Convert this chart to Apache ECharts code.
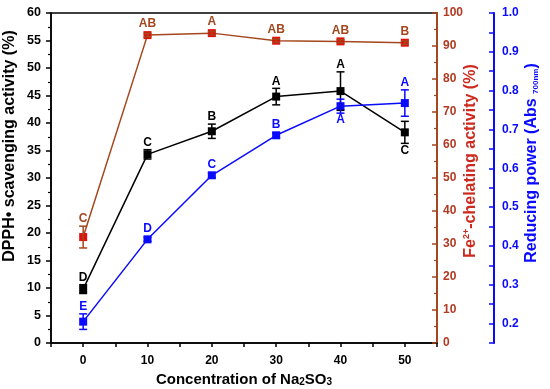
<!DOCTYPE html>
<html><head><meta charset="utf-8">
<script src="https://cdn.jsdelivr.net/npm/echarts@6/dist/echarts.min.js"></script>
<style>html,body{margin:0;padding:0;background:#fff}#c{width:550px;height:389px}</style>
</head><body><div id="c"></div>
<script>
const conc = [0, 10, 20, 30, 40, 50];
const dpph = [9.8, 34.3, 38.5, 44.8, 45.8, 38.3];
const dpphErr = [0.8, 0.85, 1.3, 1.5, 3.5, 2.0];
const dpphLetters = ['D', 'C', 'B', 'A', 'A', 'C'];
const fe = [32.1, 93.3, 93.9, 91.6, 91.4, 91.0];
const feErr = [3.3, 0.5, 0.5, 0.5, 0.5, 0.5];
const feLetters = ['C', 'AB', 'A', 'AB', 'AB', 'B'];
const rp = [0.205, 0.417, 0.582, 0.685, 0.760, 0.768];
const rpErr = [0.02, 0.005, 0.006, 0.006, 0.018, 0.034];
const rpLetters = ['E', 'D', 'C', 'B', 'A', 'A'];
const xTicks = [0, 10, 20, 30, 40, 50];
const rpTickLabels = [0.2, 0.3, 0.4, 0.5, 0.6, 0.7, 0.8, 0.9, 1.0];
const rpTickMarks = [0.15, 0.2, 0.25, 0.3, 0.35, 0.4, 0.45, 0.5, 0.55, 0.6, 0.65, 0.7, 0.75, 0.8, 0.85, 0.9, 0.95, 1.0];

// placement of letters (below the point for these indices)
const dpphBelow = [false, false, false, false, false, true];
const feBelow = [false, false, false, false, false, false];
const rpBelow = [false, false, false, false, true, false];

const FONT = 'Liberation Sans, Arial, sans-serif';
const BLACK = '#000000', RED = '#e0100a', BROWN = '#a4471e', FELAB = '#b23a22', FETITLE = '#cc2a1e', BLUE = '#0a0aff';

function errSeries(name, vals, errs, letters, below, yIdx, color, letterColor) {
  return {
    type: 'custom', name: name, yAxisIndex: yIdx, z: 5,
    data: conc.map((x, i) => [x, vals[i], errs[i], i]),
    renderItem: function (params, api) {
      const x = api.value(0), y = api.value(1), e = api.value(2), i = api.value(3);
      const top = api.coord([x, y + e]), bot = api.coord([x, y - e]), mid = api.coord([x, y]);
      const w = 4;
      const st = { stroke: color, lineWidth: 1.5 };
      const children = [
        { type: 'line', shape: { x1: top[0], y1: top[1], x2: bot[0], y2: bot[1] }, style: st },
        { type: 'line', shape: { x1: top[0] - w, y1: top[1], x2: top[0] + w, y2: top[1] }, style: st },
        { type: 'line', shape: { x1: bot[0] - w, y1: bot[1], x2: bot[0] + w, y2: bot[1] }, style: st }
      ];
      const b = below[i];
      const ty = b ? Math.max(bot[1], mid[1] + 4) + 1 : Math.min(top[1], mid[1] - 4) - 1;
      children.push({
        type: 'text', style: {
          x: top[0], y: ty, text: letters[i], fill: letterColor,
          font: 'bold 12px ' + FONT, align: 'center', verticalAlign: b ? 'top' : 'bottom'
        }
      });
      return { type: 'group', children: children };
    }
  };
}

const chart = echarts.init(document.getElementById('c'), null, { renderer: 'canvas' });
chart.setOption({
  animation: false,
  backgroundColor: '#fff',
  textStyle: { fontFamily: FONT },
  grid: { left: 51, right: 113, top: 13, bottom: 46, outerBoundsMode: 'none', containLabel: false,
    show: true, borderColor: '#000', borderWidth: 1.5, backgroundColor: 'transparent' },
  graphic: [
    { type: 'text', x: 10, y: 146, rotation: Math.PI / 2, z: 10,
      style: { text: 'DPPH• scavenging activity (%)', font: 'bold 16px ' + FONT, fill: '#000', align: 'center', verticalAlign: 'middle' } },
    { type: 'text', x: 471, y: 161, rotation: Math.PI / 2, z: 10,
      style: { text: '{a|Fe}{s|2+}{a|-chelating activity (%)}', align: 'center', verticalAlign: 'middle',
        rich: { a: { fill: FETITLE, font: 'bold 16px ' + FONT }, s: { fill: FETITLE, font: 'bold 9px ' + FONT, verticalAlign: 'top', padding: [0, 0, 8, 0] } } } },
    { type: 'text', x: 532, y: 163, rotation: Math.PI / 2, z: 10,
      style: { text: '{a|Reducing power (Abs }{s|700nm}{a|)}', align: 'center', verticalAlign: 'middle',
        rich: { a: { fill: BLUE, font: 'bold 16px ' + FONT }, s: { fill: BLUE, font: 'bold 8px ' + FONT, verticalAlign: 'bottom' } } } }
  ],
  xAxis: {
    type: 'value', min: -5, max: 55, interval: 5,
    name: '{a|Concentration of Na}{s|2}{a|SO}{s|3}', nameLocation: 'middle', nameGap: 23,
    nameTextStyle: { rich: { a: { fontWeight: 'bold', fontSize: 15, color: '#000', fontFamily: FONT }, s: { fontWeight: 'bold', fontSize: 10, color: '#000', fontFamily: FONT, verticalAlign: 'bottom', padding: [4, 0, 0, 0] } } },
    axisLine: { onZero: false, lineStyle: { color: '#000', width: 1.5 } },
    axisTick: { inside: false, length: 4, lineStyle: { color: '#000', width: 1.5 } },
    axisLabel: { color: '#000', fontWeight: 'bold', fontSize: 12, margin: 12, showMinLabel: true, showMaxLabel: true,
      formatter: v => (xTicks.indexOf(v) >= 0 ? String(v) : '') },
    splitLine: { show: false }
  },
  yAxis: [
    {
      type: 'value', min: 0, max: 60, interval: 5, position: 'left',
      axisLine: { show: true, onZero: false, lineStyle: { color: '#000', width: 1.5 } },
      axisTick: { show: true, length: 5, lineStyle: { color: '#000', width: 1.5 } },
      minorTick: { show: true, splitNumber: 2, length: 3, lineStyle: { color: '#000', width: 1.2 } },
      axisLabel: { color: '#000', fontWeight: 'bold', fontSize: 12.5, margin: 10 },
      splitLine: { show: false }
    },
    {
      type: 'value', min: 0, max: 100, interval: 10, position: 'right',
      axisLine: { show: true, onZero: false, lineStyle: { color: BROWN, width: 2 } },
      axisTick: { show: true, inside: true, length: 5, lineStyle: { color: BROWN, width: 1.5 } },
      minorTick: { show: true, splitNumber: 2, length: 3, lineStyle: { color: BROWN, width: 1.2 } },
      axisLabel: { color: FELAB, fontWeight: 'bold', fontSize: 12, margin: 6 },
      splitLine: { show: false }
    },
    {
      type: 'value', min: 0.15, max: 1.0, position: 'right', offset: 57,
      axisLine: { show: true, onZero: false, lineStyle: { color: BLUE, width: 2 } },
      axisTick: { show: true, inside: true, length: 5, lineStyle: { color: BLUE, width: 1.5 }, customValues: rpTickMarks },
      axisLabel: { color: BLUE, fontWeight: 'bold', fontSize: 12, margin: 8, customValues: rpTickLabels, formatter: v => v.toFixed(1) },
      splitLine: { show: false }
    }
  ],
  series: [
    { type: 'line', name: 'DPPH', yAxisIndex: 0, data: conc.map((x, i) => [x, dpph[i]]), symbol: 'rect', symbolSize: 8,
      lineStyle: { color: BLACK, width: 1.5 }, itemStyle: { color: BLACK }, z: 3 },
    { type: 'line', name: 'Fe', yAxisIndex: 1, data: conc.map((x, i) => [x, fe[i]]), symbol: 'rect', symbolSize: 8,
      lineStyle: { color: BROWN, width: 1.5 }, itemStyle: { color: RED }, z: 3 },
    { type: 'line', name: 'RP', yAxisIndex: 2, data: conc.map((x, i) => [x, rp[i]]), symbol: 'rect', symbolSize: 8,
      lineStyle: { color: BLUE, width: 1.5 }, itemStyle: { color: BLUE }, z: 3 },
    errSeries('DPPHerr', dpph, dpphErr, dpphLetters, dpphBelow, 0, BLACK, BLACK),
    errSeries('Feerr', fe, feErr, feLetters, feBelow, 1, BROWN, BROWN),
    errSeries('RPerr', rp, rpErr, rpLetters, rpBelow, 2, BLUE, BLUE)
  ]
});
</script></body></html>
